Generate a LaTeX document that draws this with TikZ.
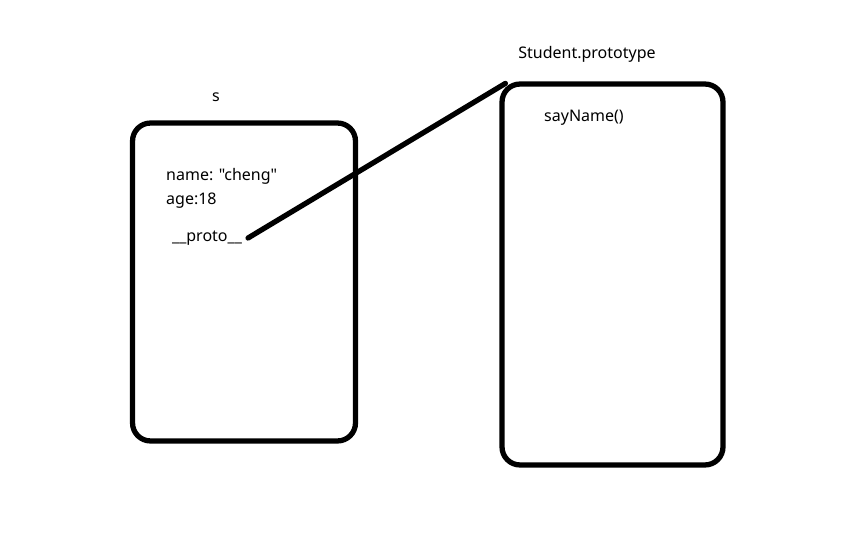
\documentclass[tikz,border=0pt]{standalone}
\usepackage{fontspec}
\setmainfont{Noto Sans}[Ligatures=TeXOff]
\usetikzlibrary{positioning}

\begin{document}
\begin{tikzpicture}[x=0.02cm, y=-0.02cm, every node/.style={font=\fontsize{9.1}{10}\selectfont},
    objbox/.style={draw, line width=3pt, rounded corners=0.36cm}, node distance=0.1cm]
    \useasboundingbox (0,0) rectangle (864,540);

    % Boxes
    \node[objbox, minimum width=4.46cm, minimum height=6.36cm] (sbox) at (244,282) {};
    \node[objbox, minimum width=4.42cm, minimum height=7.62cm] (protobox) at (612.5,274.5) {};

    % Titles
    \node (lblS) at (216,97) {s};
    \node (lblProto) at (587,54) {Student.prototype};

    % Fields
    \node[anchor=west] (nameTxt) at (160,176) {name: "cheng"};
    \node[anchor=west] (ageTxt) at (160,201) {age:18};
    \node[anchor=west] (protoTxt) at (166,238) {\_\_proto\_\_};
    \node[anchor=west] (sayTxt) at (538,118) {sayName()};

    % Link
    \draw[line width=3pt, line cap=round] (protoTxt.east) -- ([xshift=0.12cm, yshift=-0.04cm]protobox.north west);
\end{tikzpicture}
\end{document}
